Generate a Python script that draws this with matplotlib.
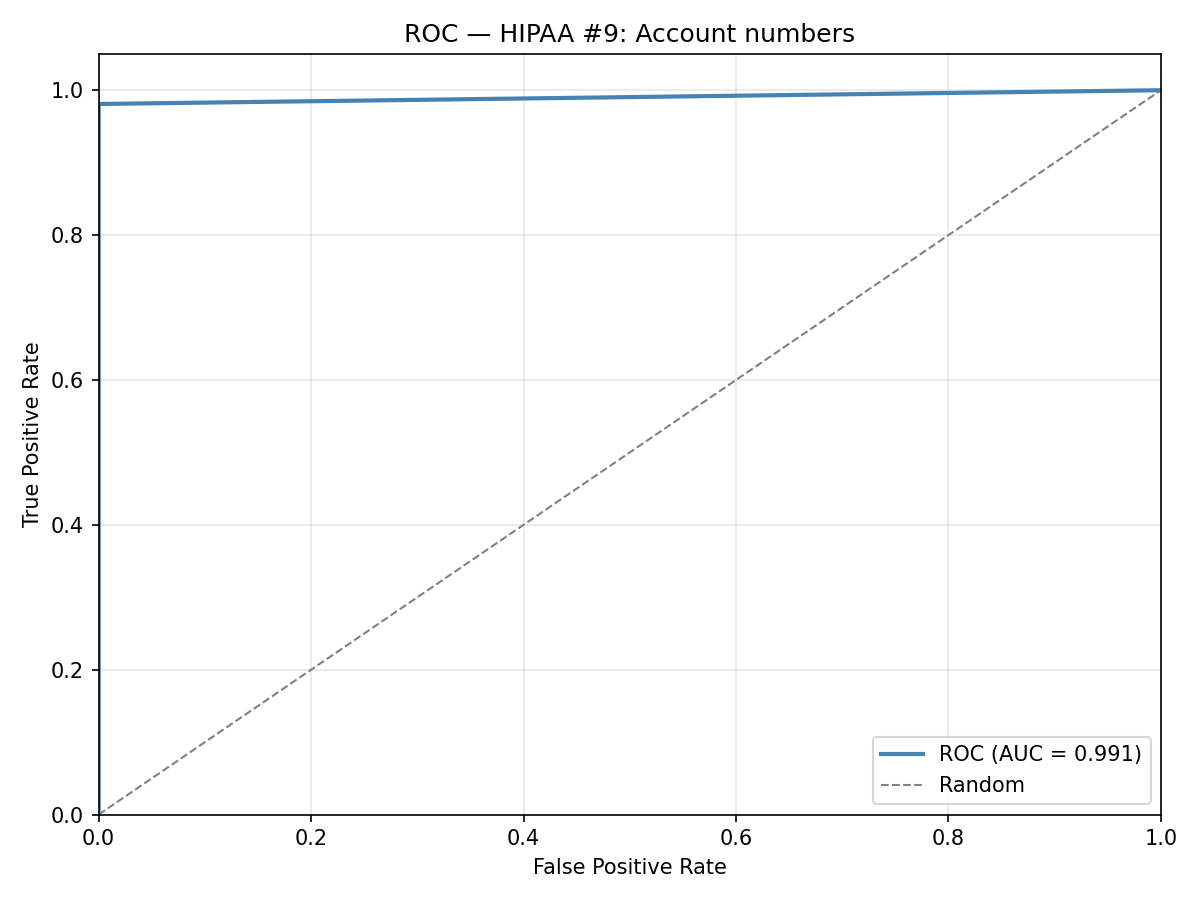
import matplotlib
matplotlib.use("Agg")
import matplotlib.pyplot as plt

fpr = [0.0, 0.0, 1.0]
tpr = [0.0, 0.981, 1.0]
auc = 0.991
rand_x = [0, 1]
rand_y = [0, 1]

fig, ax = plt.subplots(figsize=(8, 6), dpi=150)
ax.plot(fpr, tpr, color="steelblue", lw=2, label=f"ROC (AUC = {auc:.3f})")
ax.plot(rand_x, rand_y, "--", color="gray", lw=1, label="Random")
ax.set_xlim(0, 1)
ax.set_ylim(0, 1.05)
ax.set_xlabel("False Positive Rate")
ax.set_ylabel("True Positive Rate")
ax.set_title("ROC — HIPAA #9: Account numbers")
ax.legend(loc="lower right")
ax.grid(alpha=0.3)
fig.tight_layout()
fig.savefig("out.png")
